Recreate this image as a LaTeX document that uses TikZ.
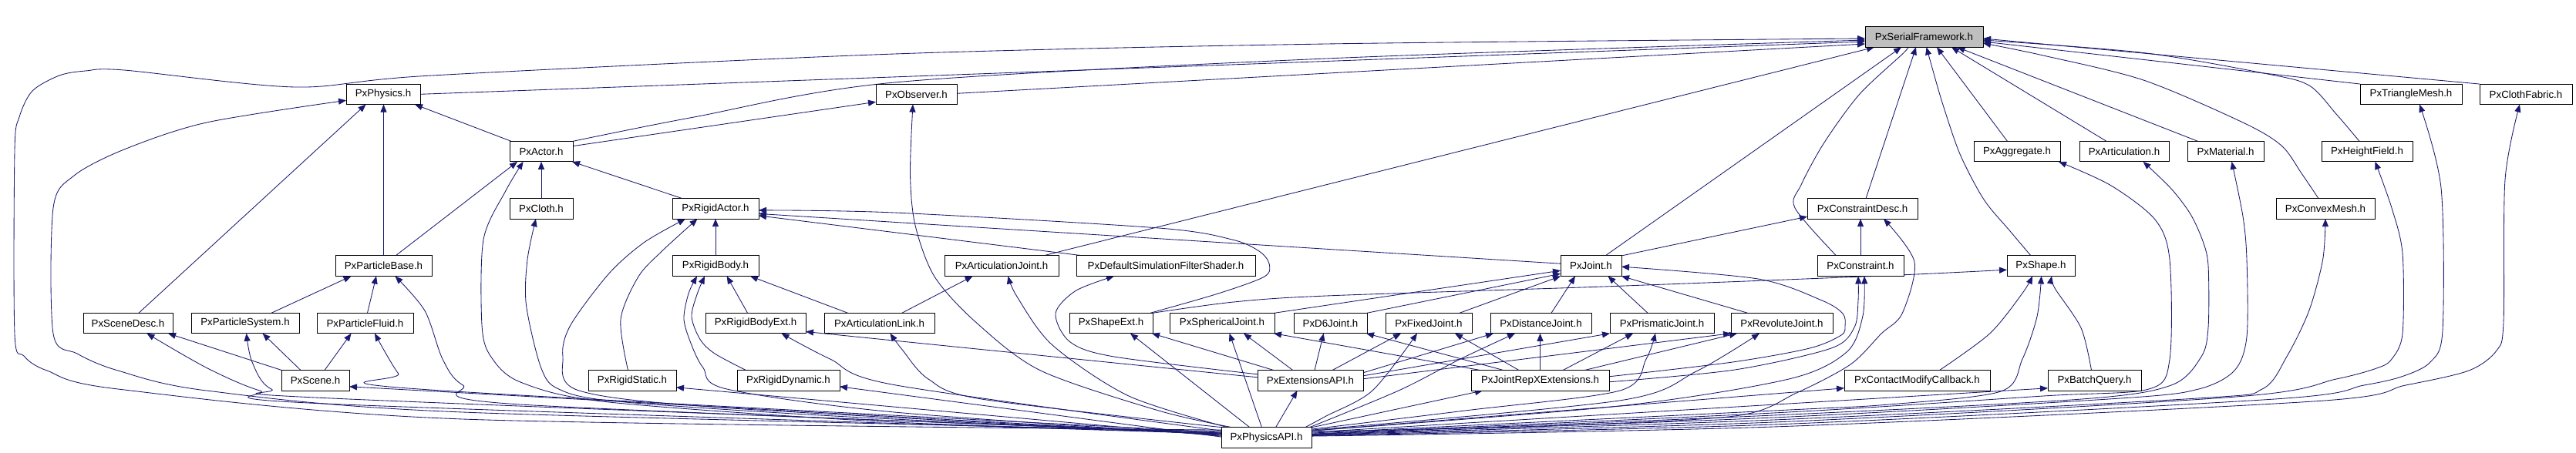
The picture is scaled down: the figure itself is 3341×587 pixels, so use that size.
\documentclass[tikz,border=0pt]{standalone}
\usepackage{fontspec}
\setmainfont{Liberation Sans}
\usetikzlibrary{arrows.meta}
\definecolor{navy}{HTML}{191970}
\definecolor{sfgray}{HTML}{BFBFBF}
\pgfdeclarelayer{bg}
\pgfsetlayers{bg,main}
\begin{document}
\begin{tikzpicture}[x=1pt,y=-1pt,
  box/.style={draw=black, line width=1pt, fill=white, minimum height=26.5pt, inner sep=0pt, outer sep=0pt, font=\fontsize{13.3}{16}\selectfont},
  dep/.style={draw=navy, line width=0.85pt, line join=round, -{Triangle[length=10pt,width=8pt]}}]
\useasboundingbox (0,0) rectangle (3341,587);
% row 0
\node[box, minimum width=153pt, fill=sfgray] (SF) at (2495.5,48) {PxSerialFramework.h};
% row 1
\node[box, minimum width=96pt] (Physics) at (497,122.3) {PxPhysics.h};
\node[box, minimum width=105pt] (Observer) at (1188.5,122.3) {PxObserver.h};
\node[box, minimum width=132pt] (TriMesh) at (3127,122.3) {PxTriangleMesh.h};
\node[box, minimum width=120pt] (ClothFabric) at (3276,122.3) {PxClothFabric.h};
% row 2
\node[box, minimum width=82pt] (Actor) at (702,196.6) {PxActor.h};
\node[box, minimum width=112pt] (Aggregate) at (2616,196.6) {PxAggregate.h};
\node[box, minimum width=116pt] (Articulation) at (2755,196.6) {PxArticulation.h};
\node[box, minimum width=99pt] (Material) at (2886.5,196.6) {PxMaterial.h};
\node[box, minimum width=118pt] (HeightField) at (3070,196.6) {PxHeightField.h};
% row 3
\node[box, minimum width=82pt] (Cloth) at (702,270.9) {PxCloth.h};
\node[box, minimum width=112pt] (RigidActor) at (928,270.9) {PxRigidActor.h};
\node[box, minimum width=143pt] (ConstraintDesc) at (2415.5,270.9) {PxConstraintDesc.h};
\node[box, minimum width=128pt] (ConvexMesh) at (3016,270.9) {PxConvexMesh.h};
% row 4
\node[box, minimum width=125pt] (ParticleBase) at (497.5,345.2) {PxParticleBase.h};
\node[box, minimum width=112pt] (RigidBody) at (928,345.2) {PxRigidBody.h};
\node[box, minimum width=148pt] (ArtJoint) at (1299,345.2) {PxArticulationJoint.h};
\node[box, minimum width=232pt] (DefSim) at (1512,345.2) {PxDefaultSimulationFilterShader.h};
\node[box, minimum width=79pt] (Joint) at (2063.5,345.2) {PxJoint.h};
\node[box, minimum width=112pt] (Constraint) at (2413,345.2) {PxConstraint.h};
\node[box, minimum width=88pt] (Shape) at (2647,345.2) {PxShape.h};
% row 5
\node[box, minimum width=116pt] (SceneDesc) at (166,419.5) {PxSceneDesc.h};
\node[box, minimum width=140pt] (PartSys) at (318,419.5) {PxParticleSystem.h};
\node[box, minimum width=125pt] (PartFluid) at (473.5,419.5) {PxParticleFluid.h};
\node[box, minimum width=130pt] (RigidBodyExt) at (980,419.5) {PxRigidBodyExt.h};
\node[box, minimum width=143pt] (ArtLink) at (1140.5,419.5) {PxArticulationLink.h};
\node[box, minimum width=108pt] (ShapeExt) at (1441,419.5) {PxShapeExt.h};
\node[box, minimum width=136pt] (Spherical) at (1585,419.5) {PxSphericalJoint.h};
\node[box, minimum width=95pt] (D6) at (1725.5,419.5) {PxD6Joint.h};
\node[box, minimum width=112pt] (Fixed) at (1853,419.5) {PxFixedJoint.h};
\node[box, minimum width=131pt] (Distance) at (1998.5,419.5) {PxDistanceJoint.h};
\node[box, minimum width=135pt] (Prismatic) at (2155.5,419.5) {PxPrismaticJoint.h};
\node[box, minimum width=132pt] (Revolute) at (2311,419.5) {PxRevoluteJoint.h};
% row 6
\node[box, minimum width=88pt] (Scene) at (409,493.8) {PxScene.h};
\node[box, minimum width=114pt] (RigidStatic) at (820,493.8) {PxRigidStatic.h};
\node[box, minimum width=133pt] (RigidDynamic) at (1022.5,493.8) {PxRigidDynamic.h};
\node[box, minimum width=137pt] (ExtAPI) at (1699.5,493.8) {PxExtensionsAPI.h};
\node[box, minimum width=179pt] (RepX) at (1997.5,493.8) {PxJointRepXExtensions.h};
\node[box, minimum width=189pt] (ContactMod) at (2486.5,493.8) {PxContactModifyCallback.h};
\node[box, minimum width=121pt] (BatchQuery) at (2716.5,493.8) {PxBatchQuery.h};
% row 7
\node[box, minimum width=117pt] (API) at (1642.5,568.1) {PxPhysicsAPI.h};

\begin{pgfonlayer}{bg}
\fill[white] (0,0) rectangle (3341,587);
% ---- into PxSerialFramework
\draw[dep] plot[smooth] coordinates {([yshift=10pt]API.west) (600,544) (153,505) (61,481) (31,462) (19,433) (19,196) (25,152) (42,118) (77,98) (111,92) (161,91) (383,113) (560,98) (1160,70) (1720,57) ([yshift=-2pt]SF.west)};
\draw[dep] (Physics.east) -- ([yshift=-6pt]SF.west);
\draw[dep] ([yshift=1pt]Observer.east) -- ([yshift=-9pt]SF.west);
\draw[dep] plot[smooth] coordinates {(Actor.north east) (900,152) (1160,107) (1720,76) ([yshift=-4pt]SF.west)};
\draw[dep] ([xshift=54pt]ArtJoint.north) -- ([xshift=-64.5pt]SF.south);
\draw[dep] ([xshift=18.5pt]Joint.north) -- ([xshift=-29.5pt]SF.south);
\draw[dep] ([xshift=4.5pt]ConstraintDesc.north) -- ([xshift=-10.5pt]SF.south);
\draw[dep] plot[smooth] coordinates {([xshift=-31.4pt]Constraint.north) (2328,270) (2336,240) (2366,185) (2412,122) (2469.6,68) ([xshift=-23pt]SF.south)};
\draw[dep] plot[smooth] coordinates {([xshift=-13pt]Shape.north) (2607,300) (2573,259) (2542,200) (2519,133) (2504,81) ([xshift=3pt]SF.south)};
\draw[dep] ([xshift=-12.5pt]Aggregate.north) -- ([xshift=16.5pt]SF.south);
\draw[dep] ([xshift=-23pt]Articulation.north) -- ([xshift=35.5pt]SF.south);
\draw[dep] ([xshift=-36pt]Material.north) -- ([xshift=43pt]SF.south);
\draw[dep] plot[smooth] coordinates {([xshift=-9pt]ConvexMesh.north) (2985,225) (2959,189) (2909,159) (2780,104) (2650,72) ([yshift=-8pt]SF.east)};
\draw[dep] plot[smooth] coordinates {([xshift=-10pt]HeightField.north) (3030,148) (2995,111) (2941,96) (2780,68.5) ([yshift=-4pt]SF.east)};
\draw[dep] ([xshift=-66pt]TriMesh.north) -- ([yshift=-6pt]SF.east);
\draw[dep] (ClothFabric.north west) -- ([yshift=-2pt]SF.east);
% ---- left part
\draw[dep] ([yshift=7pt]Actor.east) -- ([yshift=-10pt]Observer.west);
\draw[dep] ([xshift=2pt]Actor.north west) -- ([xshift=41pt]Physics.south);
\draw[dep] (ParticleBase.north) -- (ParticleBase.north |- Physics.south);
\draw[dep] ([xshift=14pt]SceneDesc.north) -- ([xshift=-22.5pt]Physics.south);
\draw[dep] plot[smooth] coordinates {([yshift=8pt]API.west) (600,535) (268,507) (153,481) (100,459) (69,433) (69,270) (96,228) (161,194) (268,159) ([yshift=-8pt]Physics.west)};
\draw[dep] ([xshift=15.5pt]ParticleBase.north) -- ([xshift=-31pt]Actor.south);
\draw[dep] plot[smooth] coordinates {([yshift=6pt]API.west) (1160,548) (790,522) (675,496) (636.5,462.6) (625,422) (627,311) (655.7,248) ([xshift=-23.4pt]Actor.south)};
\draw[dep] (Cloth.north) -- (Actor.south);
\draw[dep] ([xshift=13pt]RigidActor.north west) -- ([xshift=-1pt]Actor.south east);
\draw[dep] plot[smooth] coordinates {([yshift=5pt]API.west) (1100,541) (800,521) (724.6,505) (701.6,477) (682.5,396) (684,337) ([xshift=-7pt]Cloth.south)};
\draw[dep] plot[smooth] coordinates {([yshift=4pt]API.west) (950,530) (751,507) (730,462.6) (740,422) (789.6,355.3) (835.5,314.6) ([xshift=-39pt]RigidActor.south)};
\draw[dep] plot[smooth] coordinates {([xshift=-5.5pt]RigidStatic.north) (805,414.5) (828,359) (858.5,326) ([xshift=-23.5pt]RigidActor.south)};
\draw[dep] (RigidBody.north) -- (RigidActor.south);
\draw[dep] plot[smooth] coordinates {([xshift=-3pt]ShapeExt.north east) (1580,381) (1640,359) (1646,342) (1633,326) (1598,311) (1503,296) (1160,276) ([yshift=-2pt]RigidActor.east)};
\draw[dep] ([yshift=3pt]Joint.west) -- ([yshift=-6.5pt]RigidActor.east);
\draw[dep] ([xshift=-107pt]DefSim.north) -- ([yshift=-9pt]RigidActor.east);
\draw[dep] ([xshift=29.3pt]ArtLink.north) -- ([xshift=-37.4pt]ArtJoint.south);
\draw[dep] plot[smooth] coordinates {([xshift=-50pt]API.north) (1464,514) (1365,448) (1319,385) ([xshift=8.5pt]ArtJoint.south)};
\draw[dep] plot[smooth] coordinates {([yshift=8pt]ExtAPI.west) (1445,463) (1388,444) (1369,407) (1395,377.5) ([xshift=-67pt]DefSim.south)};
\draw[dep] ([yshift=4pt]ExtAPI.west) -- ([yshift=-11pt]RigidBodyExt.east);
\draw[dep] ([xshift=-10.5pt]RigidBodyExt.north) -- ([xshift=14.7pt]RigidBody.south);
\draw[dep] ([xshift=-41pt]ArtLink.north) -- ([xshift=45pt]RigidBody.south);
\draw[dep] plot[smooth] coordinates {([xshift=-55pt]RigidDynamic.north) (927,459) (908,440.5) (897,411) (904.4,381) ([xshift=-14pt]RigidBody.south)};
\draw[dep] plot[smooth] coordinates {([yshift=3pt]API.west) (1160,535) (942.7,505) (912,477.4) (897,448) (887,414.5) (893,381) ([xshift=-24pt]RigidBody.south)};
\draw[dep] ([yshift=2pt]API.west) -- ([yshift=-9pt]RigidStatic.east);
\draw[dep] ([yshift=1pt]API.west) -- ([yshift=-8pt]RigidDynamic.east);
\draw[dep] ([yshift=4pt]API.west) -- ([yshift=-8pt]Scene.east);
\draw[dep] ([xshift=-43.5pt]Scene.north) -- ([xshift=52pt]SceneDesc.south);
\draw[dep] ([xshift=-19pt]Scene.north) -- ([xshift=22.6pt]PartSys.south);
\draw[dep] ([xshift=12pt]Scene.north) -- ([xshift=-18pt]PartFluid.south);
\draw[dep] ([xshift=34pt]PartSys.north) -- ([xshift=-42pt]ParticleBase.south);
\draw[dep] ([xshift=3pt]PartFluid.north) -- ([xshift=-9.5pt]ParticleBase.south);
\draw[dep] plot[smooth] coordinates {([yshift=6pt]API.west) (675,525) (600,499.6) (574,466) (551,403.4) ([xshift=15pt]ParticleBase.south)};
\draw[dep] plot[smooth] coordinates {([yshift=5pt]API.west) (421,524) (336.8,507) (268,477.4) ([xshift=24.4pt]SceneDesc.south)};
\draw[dep] plot[smooth] coordinates {([yshift=6pt]API.west) (430,517) (352,505) (327,470) ([xshift=1.6pt]PartSys.south)};
\draw[dep] plot[smooth] coordinates {([yshift=7pt]API.west) (543.4,505) (516.6,484.8) ([xshift=12.5pt]PartFluid.south)};
\draw[dep] plot[smooth] coordinates {([xshift=-44pt]API.north) (1502.7,533) (1349.6,481) (1265.4,418) (1212,359) (1187,292.4) (1180.5,225.8) ([xshift=-4.5pt]Observer.south)};
\draw[dep] plot[smooth] coordinates {([xshift=2pt]API.north west) (1273,518) (1204,492) (1169.8,453.4) ([xshift=14pt]ArtLink.south)};
\draw[dep] plot[smooth] coordinates {([yshift=9pt]API.west) (1160,499.6) (1076.6,466) ([xshift=33.5pt]RigidBodyExt.south)};
% ---- joints
\draw[dep] ([xshift=-21.5pt]API.north) -- ([xshift=25pt]ShapeExt.south);
\draw[dep] ([xshift=-47.5pt]ExtAPI.north) -- ([xshift=-1pt]ShapeExt.south east);
\draw[dep] ([xshift=-6pt]API.north) -- ([xshift=9.6pt]Spherical.south);
\draw[dep] ([xshift=-22.8pt]ExtAPI.north) -- ([xshift=28pt]Spherical.south);
\draw[dep] ([xshift=-77.5pt]RepX.north) -- ([xshift=-1pt]Spherical.south east);
\draw[dep] (Spherical.north east) -- ([yshift=-6pt]Joint.west);
\draw[dep] ([xshift=5.5pt]ExtAPI.north) -- ([xshift=-8.8pt]D6.south);
\draw[dep] ([xshift=-47.5pt]RepX.north) -- ([xshift=-1pt]D6.south east);
\draw[dep] (D6.north east) -- ([yshift=-10pt]Joint.west);
\draw[dep] ([xshift=28.5pt]ExtAPI.north) -- ([xshift=-36pt]Fixed.south);
\draw[dep] plot[smooth] coordinates {([xshift=50pt]API.north) (1720,540) (1780,507) ([xshift=-15pt]Fixed.south)};
\draw[dep] ([xshift=-27.5pt]RepX.north) -- ([xshift=34pt]Fixed.south);
\draw[dep] ([xshift=40pt]Fixed.north) -- (Joint.south west);
\draw[dep] ([yshift=10pt]ExtAPI.east) -- ([xshift=-61.5pt]Distance.south);
\draw[dep] plot[smooth] coordinates {([xshift=-3pt]API.north east) (1814,507) (1894,466) ([xshift=-33.5pt]Distance.south)};
\draw[dep] (RepX.north) -- (RepX.north |- Distance.south);
\draw[dep] ([xshift=13.5pt]Distance.north) -- ([xshift=-20.5pt]Joint.south);
\draw[dep] ([yshift=6pt]ExtAPI.east) -- (Prismatic.south west);
\draw[dep] ([xshift=29.5pt]RepX.north) -- ([xshift=-37.5pt]Prismatic.south);
\draw[dep] plot[smooth] coordinates {([yshift=11pt]API.east) (1900,533) (2101,507) (2135,466) ([xshift=-8.5pt]Prismatic.south)};
\draw[dep] ([xshift=-18.5pt]Prismatic.north) -- ([xshift=22pt]Joint.south);
\draw[dep] ([xshift=-44.5pt]Revolute.north) -- (Joint.south east);
\draw[dep] ([yshift=2pt]ExtAPI.east) -- (Revolute.south west);
\draw[dep] ([xshift=57.5pt]RepX.north) -- ([xshift=-58pt]Revolute.south);
\draw[dep] plot[smooth] coordinates {([yshift=10pt]API.east) (2100,520) (2200,482) ([xshift=-29pt]Revolute.south)};
\draw[dep] plot[smooth] coordinates {([yshift=5pt]RepX.east) (2247,470) (2347,452) (2388,435) (2393,423) (2390,407) (2363,390) (2280,362) ([yshift=-1pt]Joint.east)};
\draw[dep] plot[smooth] coordinates {([yshift=-2pt]RepX.east) (2250,480) (2375,452) (2405,425) (2410,390) ([xshift=-3pt]Constraint.south)};
\draw[dep] plot[smooth] coordinates {([yshift=9pt]API.east) (2100,527) (2320,492) (2395,457) (2416,410) ([xshift=5pt]Constraint.south)};
\draw[dep] plot[smooth] coordinates {([yshift=8pt]API.east) (2000,553) (2250,540) (2330,510) (2400,473) (2440,433) (2467,407) (2483,340) ([xshift=27.5pt]ConstraintDesc.south)};
\draw[dep] (Joint.north east) -- ([yshift=3pt]ConstraintDesc.south west);
\draw[dep] (Constraint.north) -- (Constraint.north |- ConstraintDesc.south);
% ---- shape and friends
\draw[dep] plot[smooth] coordinates {(ShapeExt.north east) (1600,392) (1720,384) (2080,372) (2440,358) ([yshift=-5pt]Shape.west)};
\draw[dep] plot[smooth] coordinates {([yshift=6pt]API.east) (2300,533) (2450,525) (2595,508) (2623,466) (2642,410.8) ([xshift=0.6pt]Shape.south)};
\draw[dep] plot[smooth] coordinates {([xshift=29pt]ContactMod.north) (2580.6,433) (2622.7,381) ([xshift=-11pt]Shape.south)};
\draw[dep] plot[smooth] coordinates {([xshift=-4pt]BatchQuery.north) (2699,425.6) (2665,374) ([xshift=14pt]Shape.south)};
\draw[dep] ([yshift=9pt]API.east) -- ([yshift=-10pt]ContactMod.west);
\draw[dep] ([yshift=7pt]API.east) -- ([yshift=-10pt]BatchQuery.west);
\draw[dep] ([xshift=12pt]API.north) -- ([xshift=-17pt]ExtAPI.south);
\draw[dep] (API.north east) -- ([xshift=-74.5pt]RepX.south);
% ---- right group
\draw[dep] plot[smooth] coordinates {([yshift=5pt]API.east) (2300,536) (2650,514) (2787,505) (2814,466.5) (2814,337) (2795,285) (2737.5,240.6) ([xshift=54pt]Aggregate.south)};
\draw[dep] plot[smooth] coordinates {([yshift=4.5pt]API.east) (2300,539) (2700,518) (2816,500) (2855,463) (2864,425) (2864,345) (2857,313) (2841,278) (2816,245) ([xshift=24.6pt]Articulation.south)};
\draw[dep] plot[smooth] coordinates {([yshift=4pt]API.east) (2300,542) (2750,517) (2851.5,505) (2898,481) (2914,437) (2914,337) (2909,281) ([xshift=8pt]Material.south)};
\draw[dep] plot[smooth] coordinates {([yshift=3.5pt]API.east) (2300,545) (2850,517) (2934,505) (2966,462.6) (2994.7,403.4) (3012.6,337) (ConvexMesh.south)};
\draw[dep] plot[smooth] coordinates {([yshift=3pt]API.east) (2300,548) (2900,515) (3030,492) (3084,477.4) (3102,466) (3116,433) (3116,329) (3102,270) ([xshift=10.5pt]HeightField.south)};
\draw[dep] plot[smooth] coordinates {([yshift=2.5pt]API.east) (2300,551) (2950,518) (3066,500) (3116,488.5) (3152,470) (3168,429) (3166,244) ([xshift=11pt]TriMesh.south)};
\draw[dep] plot[smooth] coordinates {([yshift=2pt]API.east) (2300,554) (3000,521) (3120,500) (3202,481) (3238,455) (3247,418) (3249,233) ([xshift=-8pt]ClothFabric.south)};
\end{pgfonlayer}
\end{tikzpicture}
\end{document}
